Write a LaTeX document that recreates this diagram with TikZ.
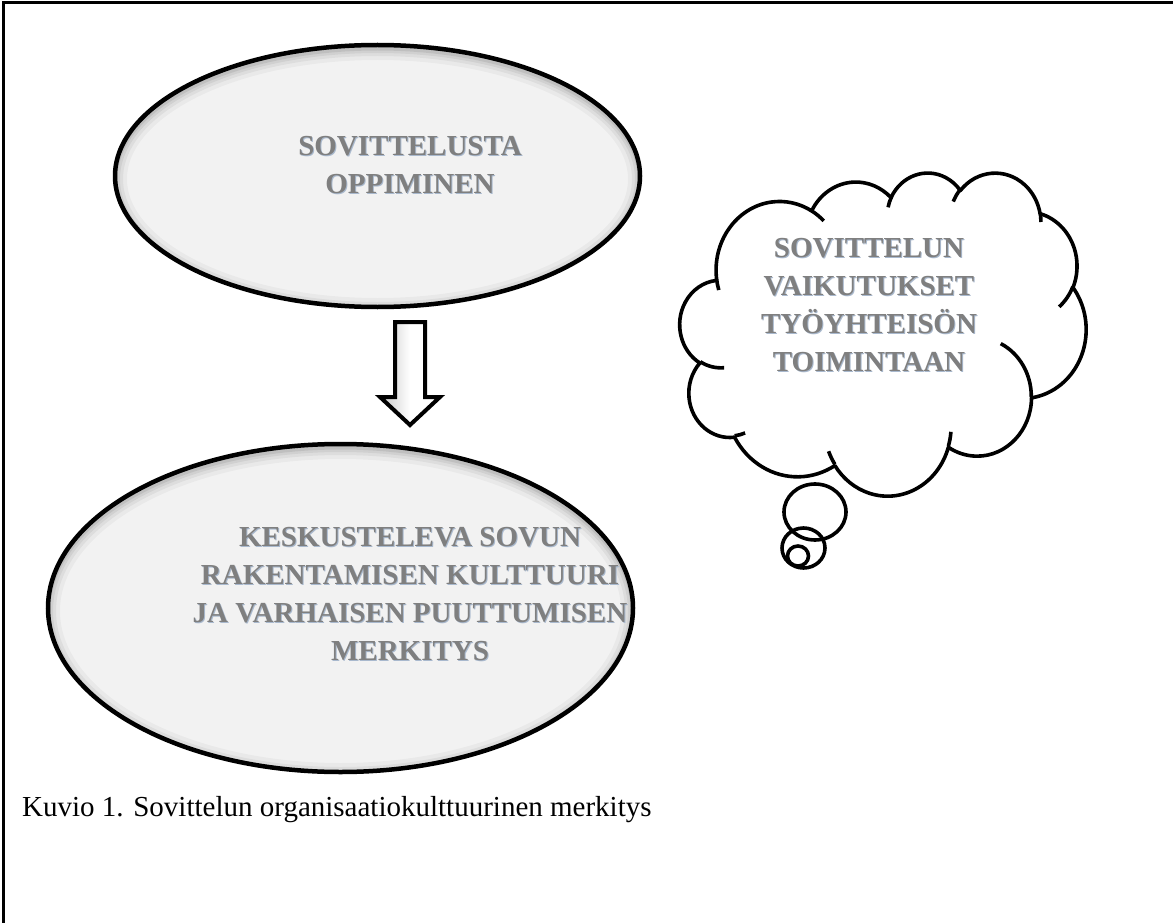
\documentclass[tikz,border=0pt]{standalone}
\usepackage{fontspec}
\setmainfont{Liberation Serif}
\definecolor{ellfill}{HTML}{F2F2F2}
\definecolor{txtgray}{HTML}{7F7F7F}
\definecolor{txtshadow}{HTML}{A9B9CE}

\def\cldSX{0.09398}\def\cldSY{0.07477}\def\cldXO{680}\def\cldYO{172}
% name, wR, hR, start angle, sweep angle (DrawingML style, visual angles)
\newcommand\cldprep[5]{%
  \pgfmathsetmacro\cldta{atan2((#2)*sin(#4),(#3)*cos(#4))}%
  \pgfmathsetmacro\cldtb{atan2((#2)*sin((#4)+(#5)),(#3)*cos((#4)+(#5)))}%
  \pgfmathsetmacro\cldtd{mod(\cldtb-\cldta+720,360)}%
  \pgfmathsetmacro\cldns{-(\cldta)}%
  \pgfmathsetmacro\cldnd{-(\cldtd)}%
  \pgfmathsetmacro\cldrx{\cldSX*(#2)}%
  \pgfmathsetmacro\cldry{\cldSY*(#3)}%
  \edef\cldtmp{\noexpand\tikzset{cld#1/.style={start angle=\cldns, delta angle=\cldnd, x radius=\cldrx pt, y radius=\cldry pt}}}%
  \cldtmp}
\cldprep{A}{675.3}{919.0}{-190.4875}{123.7805}
\cldprep{B}{533.3}{726.7}{-144.1024}{89.9452}
\cldprep{C}{436.5}{594.5}{-145.8079}{99.7230}
\cldprep{D}{485.7}{659.5}{-130.9861}{117.2417}
\cldprep{E}{533.3}{727.3}{-78.7089}{109.0269}
\cldprep{F}{677.5}{922.0}{-46.2673}{130.2690}
\cldprep{G}{578.5}{786.7}{0.6250}{114.0333}
\cldprep{H}{675.2}{921.5}{22.4516}{115.1726}
\cldprep{I}{772.0}{1054.3}{66.2426}{75.7110}
\cldprep{J}{436.0}{591.8}{-274.9421}{146.7356}
\cldprep{K}{434.5}{594.5}{-246.8285}{152.5189}
\cldprep{a}{434.5}{594.5}{86.7420}{26.4295}
\cldprep{b}{436.0}{591.8}{73.6105}{11.4475}
\cldprep{c}{675.2}{921.5}{137.6242}{14.0811}
\cldprep{d}{675.2}{921.5}{6.4533}{15.9984}
\cldprep{e}{578.5}{786.7}{-70.2924}{70.9174}
\cldprep{f}{533.3}{727.3}{30.3180}{27.7515}
\cldprep{g}{485.7}{659.5}{-13.7443}{14.8512}
\cldprep{h}{485.7}{659.5}{-149.1815}{18.1945}
\cldprep{i}{436.5}{594.5}{-163.4943}{17.6973}
\cldprep{j}{675.3}{919.0}{-66.7070}{12.3194}
\cldprep{k}{675.3}{919.0}{157.6544}{11.8582}

\begin{document}
\begin{tikzpicture}[x=1pt,y=-1pt,
  ellshape/.style={line width=4.5pt, draw=black},
  cloudline/.style={line width=3.6pt, draw=black, line join=round},
  boxtext/.style={font=\bfseries\fontsize{29}{38}\selectfont, text=txtgray, align=center, inner sep=0pt},
  shadowtext/.style={font=\bfseries\fontsize{29}{38}\selectfont, text=txtshadow, align=center, inner sep=0pt},
  captext/.style={font=\fontsize{29}{34}\selectfont, text=black, anchor=base west, inner sep=0pt}]
\useasboundingbox (0,0) rectangle (1173,923);
\fill[white] (0,0) rectangle (1173,923);

% frame (top and left edges visible)
\draw[line width=3pt] (3,923) -- (3,3) -- (1173,3);

% top ellipse
\coordinate (e1) at (377.5,176);
\fill[ellfill] (e1) ellipse [x radius=262.5, y radius=131];
\begin{scope}
  \clip (e1) ellipse [x radius=262.5, y radius=131];
  \foreach \w/\o in {24/0.035,16/0.05,10/0.06,5/0.08}
    \draw[line width=\w pt, black, opacity=\o] ([yshift=-3pt]e1) ellipse [x radius=262.5, y radius=131];
\end{scope}
\draw[ellshape] (e1) ellipse [x radius=262.5, y radius=131];

% bottom ellipse
\coordinate (e2) at (340.5,608);
\fill[ellfill] (e2) ellipse [x radius=292.5, y radius=164];
\begin{scope}
  \clip (e2) ellipse [x radius=292.5, y radius=164];
  \foreach \w/\o in {24/0.035,16/0.05,10/0.06,5/0.08}
    \draw[line width=\w pt, black, opacity=\o] ([yshift=-3pt]e2) ellipse [x radius=292.5, y radius=164];
\end{scope}
\draw[ellshape] (e2) ellipse [x radius=292.5, y radius=164];

% block arrow
\draw[line width=4pt, line join=miter, shading=axis, left color=black!22, right color=white, middle color=white]
  (395,322) -- (425,322) -- (425,397) -- (440,397) -- (410,425) -- (380,397) -- (395,397) -- cycle;

% cloud callout
\coordinate (cS) at ({\cldXO+\cldSX*390.0},{\cldYO+\cldSY*1437.0});
\draw[cloudline] (cS) arc[cldA] arc[cldB] arc[cldC] arc[cldD] arc[cldE] arc[cldF]
  arc[cldG] arc[cldH] arc[cldI] arc[cldJ] arc[cldK] -- cycle;
\coordinate (sa) at ({\cldXO+\cldSX*469.3},{\cldYO+\cldSY*2617.7});
\coordinate (sb) at ({\cldXO+\cldSX*692.8},{\cldYO+\cldSY*3489.9});
\coordinate (sc) at ({\cldXO+\cldSX*1647.8},{\cldYO+\cldSY*3909.0});
\coordinate (sd) at ({\cldXO+\cldSX*2882.7},{\cldYO+\cldSY*3475.1});
\coordinate (se) at ({\cldXO+\cldSX*3412.9},{\cldYO+\cldSY*2295.4});
\coordinate (sf) at ({\cldXO+\cldSX*4179.8},{\cldYO+\cldSY*1535.4});
\coordinate (sg) at ({\cldXO+\cldSX*3832.4},{\cldYO+\cldSY*542.6});
\coordinate (sh) at ({\cldXO+\cldSX*2907.8},{\cldYO+\cldSY*395.2});
\coordinate (si) at ({\cldXO+\cldSX*2214.1},{\cldYO+\cldSY*472.0});
\coordinate (sj) at ({\cldXO+\cldSX*1400.0},{\cldYO+\cldSY*519.2});
\coordinate (sk) at ({\cldXO+\cldSX*412.7},{\cldYO+\cldSY*1578.9});
\draw[cloudline] (sa) arc[clda];
\draw[cloudline] (sb) arc[cldb];
\draw[cloudline] (sc) arc[cldc];
\draw[cloudline] (sd) arc[cldd];
\draw[cloudline] (se) arc[clde];
\draw[cloudline] (sf) arc[cldf];
\draw[cloudline] (sg) arc[cldg];
\draw[cloudline] (sh) arc[cldh];
\draw[cloudline] (si) arc[cldi];
\draw[cloudline] (sj) arc[cldj];
\draw[cloudline] (sk) arc[cldk];
% tail bubbles
\coordinate (b1) at (815,512);
\coordinate (b2) at (803.5,548);
\coordinate (b3) at (798,556);
\draw[cloudline] (b1) ellipse [x radius=31, y radius=28];
\draw[cloudline] (b2) ellipse [x radius=21.5, y radius=20];
\draw[cloudline] (b3) ellipse [x radius=10.5, y radius=10];

% texts
\node[shadowtext] (topsh) at (411,166) {SOVITTELUSTA\\OPPIMINEN};
\node[boxtext] (toptxt) at (410,165) {SOVITTELUSTA\\OPPIMINEN};
\node[shadowtext] (botsh) at (411,595.5) {KESKUSTELEVA SOVUN\\RAKENTAMISEN KULTTUURI\\JA VARHAISEN PUUTTUMISEN\\MERKITYS};
\node[boxtext] (bottxt) at (410,594.5) {KESKUSTELEVA SOVUN\\RAKENTAMISEN KULTTUURI\\JA VARHAISEN PUUTTUMISEN\\MERKITYS};
\node[shadowtext] (cldsh) at (870,306.5) {SOVITTELUN\\VAIKUTUKSET\\TYÖYHTEISÖN\\TOIMINTAAN};
\node[boxtext] (cldtxt) at (869,305.5) {SOVITTELUN\\VAIKUTUKSET\\TYÖYHTEISÖN\\TOIMINTAAN};

% caption
\node[captext] (cap) at (22,816) {Kuvio 1. Sovittelun organisaatiokulttuurinen merkitys};
\end{tikzpicture}
\end{document}
